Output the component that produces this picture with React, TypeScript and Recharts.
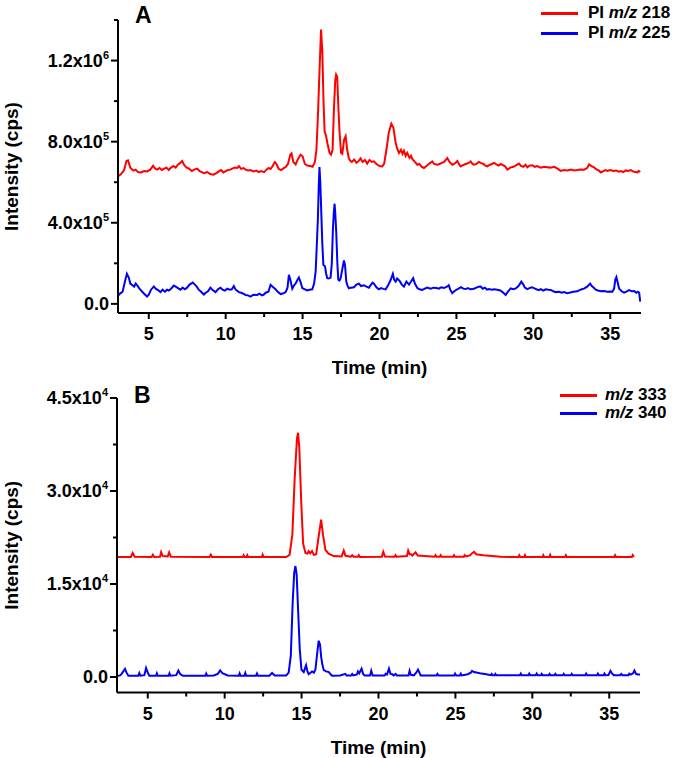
import React from 'react';
import { LineChart, Line, XAxis, YAxis, Legend } from 'recharts';

const FONT = '"Liberation Sans", Arial, sans-serif';
const RED = '#ff0000';
const BLUE = '#0000f4';

// ---- panel A, intensity in kcps ----
const aRedTime = [3.0, 3.2, 3.4, 3.55, 3.65, 3.8, 4.0, 4.15, 4.3, 4.5, 4.7, 4.9, 5.1, 5.28, 5.4, 5.55, 5.7, 5.85, 6.0, 6.15, 6.3, 6.45, 6.6, 6.75, 6.9, 7.05, 7.17, 7.3, 7.45, 7.6, 7.8, 7.95, 8.15, 8.3, 8.45, 8.6, 8.8, 9.0, 9.2, 9.4, 9.6, 9.7, 9.85, 10.0, 10.15, 10.3, 10.45, 10.6, 10.75, 10.86, 11.0, 11.15, 11.3, 11.45, 11.6, 11.8, 12.0, 12.15, 12.3, 12.5, 12.65, 12.8, 12.92, 13.05, 13.2, 13.3, 13.45, 13.6, 13.75, 13.9, 14.05, 14.2, 14.28, 14.4, 14.55, 14.7, 14.87, 15.0, 15.15, 15.3, 15.5, 15.65, 15.8, 15.9, 16.0, 16.1, 16.2, 16.28, 16.36, 16.43, 16.52, 16.62, 16.75, 16.85, 16.95, 17.04, 17.12, 17.18, 17.25, 17.32, 17.4, 17.5, 17.58, 17.7, 17.8, 17.9, 18.0, 18.1, 18.2, 18.35, 18.5, 18.65, 18.77, 18.9, 19.05, 19.2, 19.35, 19.5, 19.64, 19.8, 20.0, 20.18, 20.3, 20.45, 20.6, 20.77, 20.9, 21.05, 21.15, 21.27, 21.4, 21.5, 21.59, 21.7, 21.8, 21.95, 22.05, 22.13, 22.3, 22.46, 22.6, 22.75, 22.89, 23.05, 23.2, 23.3, 23.43, 23.55, 23.76, 23.9, 24.05, 24.2, 24.41, 24.55, 24.73, 24.85, 25.0, 25.06, 25.15, 25.28, 25.45, 25.6, 25.8, 25.93, 26.05, 26.14, 26.3, 26.45, 26.58, 26.75, 26.88, 27.01, 27.15, 27.3, 27.45, 27.6, 27.75, 27.88, 28.0, 28.15, 28.31, 28.5, 28.7, 28.9, 29.07, 29.2, 29.35, 29.5, 29.61, 29.75, 29.94, 30.1, 30.25, 30.48, 30.7, 30.9, 31.1, 31.35, 31.55, 31.78, 32.0, 32.2, 32.45, 32.65, 32.85, 33.05, 33.3, 33.5, 33.63, 33.75, 33.95, 34.1, 34.25, 34.39, 34.55, 34.7, 34.82, 35.0, 35.2, 35.4, 35.55, 35.69, 35.85, 36.0, 36.15, 36.34, 36.5, 36.65, 36.77, 36.85, 36.95];
const aRedKcps = [629, 640, 660, 705, 708, 672, 657, 662, 650, 648, 655, 653, 662, 681, 668, 662, 670, 660, 667, 672, 660, 672, 680, 672, 688, 695, 705, 685, 672, 668, 655, 662, 667, 655, 650, 645, 650, 640, 637, 645, 656, 660, 648, 655, 660, 662, 668, 672, 670, 680, 666, 670, 662, 658, 660, 653, 657, 650, 655, 650, 662, 670, 665, 680, 700, 690, 665, 660, 668, 675, 690, 735, 742, 700, 688, 715, 736, 728, 690, 682, 680, 676, 700, 760, 933, 1150, 1353, 1250, 1000, 851, 830, 790, 745, 736, 760, 966, 1100, 1131, 1120, 980, 851, 745, 740, 810, 827, 760, 720, 705, 700, 712, 696, 705, 718, 700, 710, 692, 710, 700, 703, 690, 680, 678, 690, 760, 843, 889, 870, 794, 765, 744, 760, 740, 755, 730, 745, 720, 730, 715, 700, 686, 690, 675, 670, 680, 690, 695, 703, 690, 686, 690, 695, 700, 719, 700, 686, 690, 700, 705, 690, 678, 685, 690, 695, 703, 690, 686, 690, 700, 695, 690, 682, 678, 685, 690, 695, 688, 682, 690, 685, 680, 662, 672, 676, 684, 692, 680, 676, 686, 674, 682, 684, 676, 680, 672, 676, 674, 672, 676, 668, 656, 660, 658, 662, 658, 660, 663, 662, 670, 688, 680, 673, 663, 658, 648, 655, 660, 656, 660, 655, 658, 652, 655, 650, 658, 655, 660, 652, 650, 648, 656, 650];

const aBlueTime = [3.0, 3.15, 3.3, 3.45, 3.58, 3.7, 3.8, 3.91, 4.05, 4.15, 4.24, 4.35, 4.45, 4.56, 4.7, 4.89, 5.0, 5.15, 5.33, 5.45, 5.6, 5.76, 5.9, 6.05, 6.19, 6.3, 6.45, 6.63, 6.75, 6.9, 7.06, 7.2, 7.35, 7.49, 7.65, 7.86, 8.0, 8.12, 8.25, 8.4, 8.58, 8.7, 8.85, 9.01, 9.15, 9.34, 9.5, 9.66, 9.8, 9.95, 10.1, 10.25, 10.4, 10.53, 10.65, 10.86, 11.0, 11.15, 11.29, 11.45, 11.62, 11.8, 12.05, 12.2, 12.35, 12.48, 12.6, 12.78, 12.92, 13.05, 13.24, 13.4, 13.57, 13.75, 13.9, 14.02, 14.11, 14.2, 14.33, 14.45, 14.54, 14.66, 14.76, 14.88, 14.98, 15.15, 15.3, 15.45, 15.63, 15.75, 15.85, 15.93, 16.0, 16.05, 16.1, 16.15, 16.21, 16.28, 16.35, 16.46, 16.53, 16.6, 16.7, 16.82, 16.9, 16.97, 17.03, 17.08, 17.13, 17.19, 17.26, 17.32, 17.4, 17.47, 17.58, 17.69, 17.76, 17.84, 17.92, 18.01, 18.15, 18.34, 18.5, 18.66, 18.8, 18.99, 19.15, 19.31, 19.45, 19.55, 19.64, 19.8, 19.96, 20.1, 20.25, 20.4, 20.55, 20.73, 20.87, 20.95, 21.05, 21.15, 21.32, 21.45, 21.59, 21.75, 21.92, 22.05, 22.19, 22.3, 22.46, 22.6, 22.78, 22.95, 23.1, 23.33, 23.5, 23.7, 23.87, 24.0, 24.2, 24.41, 24.5, 24.6, 24.73, 24.9, 25.05, 25.17, 25.3, 25.45, 25.6, 25.75, 25.9, 26.14, 26.3, 26.45, 26.58, 26.7, 26.85, 27.0, 27.12, 27.3, 27.45, 27.66, 27.85, 28.0, 28.2, 28.35, 28.53, 28.7, 28.86, 29.0, 29.1, 29.22, 29.35, 29.45, 29.61, 29.75, 29.9, 30.05, 30.2, 30.35, 30.48, 30.65, 30.8, 31.0, 31.13, 31.3, 31.45, 31.67, 31.85, 32.0, 32.21, 32.4, 32.6, 32.86, 33.0, 33.15, 33.3, 33.5, 33.69, 33.8, 33.95, 34.06, 34.2, 34.4, 34.6, 34.8, 35.0, 35.14, 35.25, 35.33, 35.4, 35.5, 35.58, 35.75, 35.9, 36.05, 36.23, 36.4, 36.56, 36.7, 36.8, 36.88, 36.95];
const aBlueKcps = [40, 52, 60, 110, 148, 130, 100, 94, 85, 100, 92, 80, 70, 61, 50, 36, 45, 70, 86, 75, 68, 58, 70, 60, 70, 66, 75, 90, 85, 78, 70, 80, 72, 80, 95, 105, 95, 85, 70, 60, 46, 55, 62, 80, 68, 58, 72, 80, 70, 65, 75, 70, 72, 88, 70, 58, 55, 50, 44, 42, 36, 45, 44, 50, 42, 46, 55, 60, 94, 85, 72, 58, 48, 52, 58, 80, 143, 120, 75, 92, 100, 118, 130, 105, 78, 72, 66, 70, 72, 100, 160, 300, 431, 580, 675, 600, 464, 300, 193, 185, 150, 127, 125, 130, 200, 365, 450, 494, 440, 350, 200, 119, 115, 125, 170, 214, 190, 110, 90, 77, 80, 82, 95, 100, 88, 92, 85, 80, 95, 105, 100, 82, 72, 78, 74, 72, 90, 119, 148, 120, 110, 125, 112, 95, 85, 110, 95, 110, 127, 100, 78, 72, 69, 75, 80, 75, 80, 78, 75, 82, 78, 86, 92, 70, 53, 65, 72, 76, 82, 75, 73, 78, 72, 75, 80, 85, 86, 75, 80, 70, 73, 70, 72, 70, 66, 58, 44, 60, 76, 72, 76, 86, 95, 110, 95, 80, 73, 78, 82, 78, 72, 68, 73, 65, 72, 70, 69, 62, 58, 60, 55, 58, 53, 56, 60, 62, 68, 72, 75, 85, 100, 88, 78, 70, 66, 62, 63, 60, 61, 60, 75, 120, 132, 100, 75, 62, 55, 60, 68, 62, 63, 55, 60, 55, 11];

// ---- panel B, intensity in cps ----
const bRedTime = [3.0, 3.9, 4.02, 4.15, 5.25, 5.33, 5.42, 5.8, 5.87, 5.97, 6.3, 6.39, 6.5, 9.02, 9.1, 9.18, 11.18, 11.23, 11.3, 11.42, 11.47, 11.53, 12.42, 12.47, 12.53, 14.0, 14.22, 14.4, 14.55, 14.7, 14.77, 14.85, 14.98, 15.1, 15.25, 15.38, 15.46, 15.56, 15.68, 15.8, 15.95, 16.1, 16.27, 16.4, 16.55, 16.75, 17.09, 17.6, 17.74, 17.85, 18.2, 18.29, 18.38, 18.66, 18.72, 18.8, 20.22, 20.31, 20.42, 21.05, 21.11, 21.18, 21.85, 21.93, 22.02, 22.12, 22.2, 22.41, 22.55, 23.65, 23.71, 23.78, 23.98, 24.04, 24.1, 24.85, 24.91, 24.98, 25.55, 25.6, 25.7, 25.95, 26.05, 26.21, 26.35, 26.8, 27.4, 27.95, 29.1, 29.15, 29.22, 29.47, 29.52, 29.58, 30.66, 30.71, 30.77, 31.1, 31.16, 31.22, 32.12, 32.18, 32.24, 35.32, 35.38, 35.44, 36.47, 36.53, 36.6];
const bRedCps = [19350, 19350, 20000, 19400, 19350, 19720, 19350, 19400, 20150, 19500, 19450, 20100, 19400, 19350, 19720, 19350, 19350, 19650, 19350, 19350, 19650, 19350, 19350, 19720, 19350, 19350, 19700, 23000, 32000, 38500, 39400, 37000, 28000, 21500, 20000, 19900, 20300, 19950, 20300, 19700, 19800, 22500, 25400, 22800, 20500, 19900, 19500, 19450, 20400, 19550, 19400, 19650, 19400, 19400, 19650, 19350, 19400, 20200, 19450, 19400, 19650, 19400, 19500, 20400, 19800, 19800, 19600, 20100, 19600, 19400, 19650, 19400, 19400, 19650, 19400, 19400, 19650, 19400, 19400, 19650, 19450, 19600, 19900, 20200, 19800, 19650, 19500, 19380, 19350, 19650, 19350, 19350, 19650, 19350, 19350, 19650, 19350, 19350, 19700, 19350, 19350, 19650, 19350, 19350, 19650, 19350, 19350, 19650, 19350];

const bBlueTime = [3.0, 3.2, 3.3, 3.52, 3.62, 3.74, 4.38, 4.45, 4.52, 4.78, 4.89, 5.0, 5.1, 5.53, 5.59, 5.65, 6.35, 6.41, 6.47, 6.85, 6.99, 7.1, 7.21, 7.3, 8.74, 8.8, 8.86, 9.3, 9.55, 9.71, 9.85, 10.2, 10.91, 10.97, 11.03, 11.28, 11.34, 11.4, 12.04, 12.1, 12.16, 12.9, 13.08, 13.25, 14.0, 14.16, 14.3, 14.42, 14.52, 14.6, 14.68, 14.77, 14.88, 14.99, 15.14, 15.22, 15.29, 15.38, 15.46, 15.58, 15.68, 15.8, 15.9, 16.0, 16.11, 16.2, 16.27, 16.35, 16.44, 16.6, 16.77, 16.9, 16.99, 17.5, 17.85, 17.92, 18.22, 18.29, 18.36, 18.6, 18.66, 18.75, 18.9, 19.0, 19.1, 19.45, 19.53, 19.62, 20.4, 20.46, 20.55, 20.68, 20.78, 20.9, 20.98, 21.11, 21.2, 21.95, 22.02, 22.1, 22.3, 22.45, 22.57, 22.68, 22.74, 23.77, 23.83, 23.9, 24.92, 24.98, 25.05, 25.29, 25.35, 25.42, 25.8, 26.0, 26.08, 26.2, 26.6, 27.0, 27.3, 27.36, 27.42, 27.55, 27.6, 27.66, 29.19, 29.25, 29.31, 29.74, 29.8, 29.86, 30.22, 30.28, 30.34, 30.55, 30.61, 30.67, 31.06, 31.12, 31.18, 31.44, 31.5, 31.56, 31.98, 32.04, 32.1, 32.5, 32.56, 32.62, 33.44, 33.5, 33.56, 34.2, 34.26, 34.32, 34.63, 34.69, 34.75, 34.95, 35.08, 35.2, 35.3, 35.7, 35.78, 35.85, 36.25, 36.3, 36.4, 36.55, 36.64, 36.74, 36.85, 37.0];
const bBlueCps = [150, 250, 500, 1300, 700, 200, 200, 650, 200, 300, 1450, 700, 200, 200, 600, 200, 200, 600, 200, 300, 1050, 500, 300, 200, 200, 550, 200, 250, 500, 1050, 600, 250, 200, 600, 200, 200, 650, 200, 200, 550, 200, 220, 650, 250, 250, 700, 3500, 12000, 16800, 17900, 16500, 11000, 4500, 1200, 800, 1400, 1900, 900, 450, 700, 900, 700, 1200, 3500, 5850, 5200, 3300, 2000, 1100, 900, 800, 400, 200, 250, 500, 250, 250, 500, 250, 400, 900, 600, 1350, 500, 250, 250, 1000, 250, 250, 500, 400, 1350, 500, 450, 250, 500, 250, 250, 1000, 350, 250, 700, 1200, 600, 250, 250, 500, 250, 250, 550, 250, 250, 550, 250, 450, 700, 1000, 800, 600, 450, 300, 500, 280, 280, 500, 280, 280, 550, 280, 280, 550, 280, 280, 550, 280, 280, 500, 280, 280, 500, 280, 280, 500, 280, 280, 500, 280, 280, 500, 280, 280, 550, 280, 280, 550, 280, 280, 550, 280, 300, 1000, 500, 300, 300, 500, 300, 300, 550, 400, 600, 1050, 500, 400, 400];

const timeTicks = [5, 7.5, 10, 12.5, 15, 17.5, 20, 22.5, 25, 27.5, 30, 32.5, 35];
const timeMajor = [5, 10, 15, 20, 25, 30, 35];
const aIntTicks = [0, 200, 400, 600, 800, 1000, 1200, 1400];
const aIntMajor = [0, 400, 800, 1200];
const bIntTicks = [0, 7500, 15000, 22500, 30000, 37500, 45000];
const bIntMajor = [0, 15000, 30000, 45000];

const rows = (ts: number[], vs: number[]) => ts.map((t, i) => ({ t, v: vs[i] }));

const sci = (v: number) => {
  if (v === 0) return { m: '0.0', e: '' };
  const e = Math.floor(Math.log10(v));
  return { m: (v / Math.pow(10, e)).toFixed(1) + 'x10', e: String(e) };
};

const YTick = ({ x, y, payload, major, unit }: any) => {
  const isMajor = major.includes(payload.value);
  const { m, e } = sci(payload.value * unit);
  return (
    <g>
      <line x1={x - (isMajor ? 7 : 4)} x2={x} y1={y} y2={y} stroke="#000" strokeWidth={2} />
      {isMajor && (
        <text x={x - 9} y={y + 6} textAnchor="end" fontFamily={FONT} fontWeight={700} fontSize={18} fill="#000">
          {m}
          {e && <tspan dy={-8} fontSize={11}>{e}</tspan>}
        </text>
      )}
    </g>
  );
};

const XTick = ({ x, y, payload }: any) => {
  const isMajor = timeMajor.includes(payload.value);
  return (
    <g>
      <line x1={x} x2={x} y1={y} y2={y + (isMajor ? 6 : 4)} stroke="#000" strokeWidth={2} />
      {isMajor && (
        <text x={x} y={y + 27} textAnchor="middle" fontFamily={FONT} fontWeight={700} fontSize={18} fill="#000">
          {payload.value}
        </text>
      )}
    </g>
  );
};

const YTitle = ({ viewBox }: any) => {
  const cx = 18;
  const cy = viewBox.y + viewBox.height / 2;
  return (
    <text x={cx} y={cy} transform={`rotate(-90 ${cx} ${cy})`} textAnchor="middle" fontFamily={FONT} fontWeight={700} fontSize={19} fill="#000">
      Intensity (cps)
    </text>
  );
};

const XTitle = ({ viewBox }: any) => (
  <text x={viewBox.x + viewBox.width / 2} y={viewBox.y + 61} textAnchor="middle" fontFamily={FONT} fontWeight={700} fontSize={19} fill="#000">
    Time (min)
  </text>
);

const SeriesKey = ({ payload, rowH, gap }: any) => (
  <div style={{ fontFamily: FONT, fontWeight: 700, fontSize: 17, color: '#000' }}>
    {(payload || []).map((e: any) => {
      const [pre, post] = String(e.value).split('m/z');
      return (
        <div key={e.value} style={{ display: 'flex', alignItems: 'center', height: rowH, whiteSpace: 'nowrap' }}>
          <span style={{ display: 'inline-block', width: 37, height: 3, background: e.color, marginRight: gap }} />
          <span>{pre}<i>m/z</i>{post}</span>
        </div>
      );
    })}
  </div>
);

const Panel = ({ letter, width, height, margin, yWidth, xHeight, yDomain, yTicks, yMajor, unit, red, blue, redName, blueName, strokeW, legendPos, rowH, gap }: any) => (
  <LineChart width={width} height={height} margin={margin}>
    <XAxis
      type="number"
      dataKey="t"
      domain={[3, 37]}
      allowDataOverflow
      ticks={timeTicks}
      interval={0}
      height={xHeight}
      tickSize={0}
      tickMargin={0}
      tickLine={false}
      tick={<XTick />}
      axisLine={{ stroke: '#000', strokeWidth: 2 }}
      label={<XTitle />}
    />
    <YAxis
      type="number"
      domain={yDomain}
      allowDataOverflow
      ticks={yTicks}
      interval={0}
      width={yWidth}
      tickSize={0}
      tickMargin={0}
      tickLine={false}
      tick={<YTick major={yMajor} unit={unit} />}
      axisLine={{ stroke: '#000', strokeWidth: 2 }}
      label={<YTitle />}
    />
    <Legend
      layout="vertical"
      align="center"
      verticalAlign="middle"
      wrapperStyle={{ top: legendPos.top, left: legendPos.left, right: 'auto', bottom: 'auto', width: 140 }}
      content={(p: any) => <SeriesKey payload={p.payload} rowH={rowH} gap={gap} />}
    />
    <Line data={red} dataKey="v" name={redName} type="linear" stroke={RED} strokeWidth={strokeW} dot={false} isAnimationActive={false} />
    <Line data={blue} dataKey="v" name={blueName} type="linear" stroke={BLUE} strokeWidth={strokeW} dot={false} isAnimationActive={false} />
    <text x={margin.left + yWidth + 17} y={23} fontFamily={FONT} fontWeight={700} fontSize={23} fill="#000">
      {letter}
    </text>
  </LineChart>
);

export default function App() {
  return (
    <div style={{ position: 'absolute', left: 0, top: 0, width: 675, height: 758, background: '#fff' }}>
      <div style={{ position: 'absolute', left: 0, top: 0 }}>
        <Panel
          letter="A"
          width={675}
          height={380}
          margin={{ top: 20, right: 34, bottom: 0, left: 0 }}
          yWidth={118}
          xHeight={67}
          yDomain={[-45, 1400]}
          yTicks={aIntTicks}
          yMajor={aIntMajor}
          unit={1000}
          red={rows(aRedTime, aRedKcps)}
          blue={rows(aBlueTime, aBlueKcps)}
          redName="PI m/z 218"
          blueName="PI m/z 225"
          strokeW={2}
          legendPos={{ top: 3, left: 541 }}
          rowH={20}
          gap={10}
        />
      </div>
      <div style={{ position: 'absolute', left: 0, top: 380 }}>
        <Panel
          letter="B"
          width={675}
          height={378}
          margin={{ top: 18, right: 35, bottom: 0, left: 0 }}
          yWidth={117}
          xHeight={65.5}
          yDomain={[-2500, 45000]}
          yTicks={bIntTicks}
          yMajor={bIntMajor}
          unit={1}
          red={rows(bRedTime, bRedCps)}
          blue={rows(bBlueTime, bBlueCps)}
          redName="m/z 333"
          blueName="m/z 340"
          strokeW={2}
          legendPos={{ top: 6, left: 560 }}
          rowH={18}
          gap={8}
        />
      </div>
    </div>
  );
}
